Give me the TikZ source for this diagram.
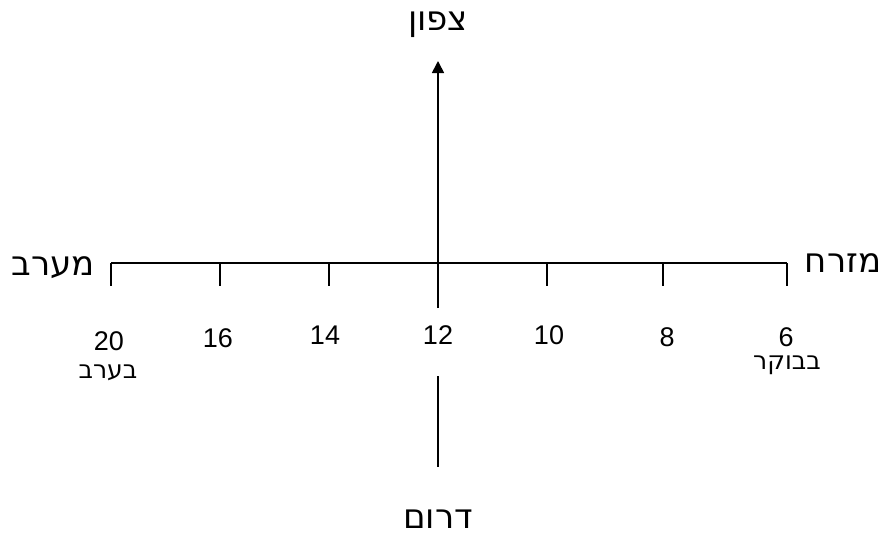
\documentclass[tikz,border=0pt]{standalone}
\usepackage{fontspec}
\setmainfont{Liberation Sans}
\newfontfamily\hebfont[Script=Hebrew]{DejaVu Sans}
\TeXXeTstate=1
\usetikzlibrary{arrows.meta}

\tikzset{
  axisline/.style={line width=1.1pt},
  mainline/.style={line width=1.7pt},
  bigheb/.style={inner sep=0pt, anchor=base, font=\hebfont\fontsize{34}{38}\selectfont},
  smallheb/.style={inner sep=0pt, anchor=base, text height=16pt, font=\hebfont\fontsize{25}{28}\selectfont},
  hour/.style={inner sep=0pt, anchor=base, text depth=0pt, font=\fontsize{27}{30}\selectfont},
}

\begin{document}
\begin{tikzpicture}[x=1pt, y=-1pt, >={Triangle[length=12pt,width=12pt]}]
  \useasboundingbox (0,0) rectangle (886,538);

  % east-west line with the hour ticks
  \coordinate (W) at (111,263);
  \coordinate (E) at (787,263);
  \coordinate (O) at (438,263);
  \draw[axisline] (W) -- (E);
  \foreach \x in {111,220,329,547,663,787}
    \draw[axisline] (\x,263) -- (\x,286);

  % noon: long tick turning into the north arrow
  \coordinate (noon) at (438,308);
  \coordinate (N) at (438,61);
  \draw[mainline,->] (noon) -- (N);

  % south stroke
  \coordinate (S1) at (438,376);
  \coordinate (S2) at (438,467);
  \draw[mainline] (S1) -- (S2);

  % hours (placed on their baselines)
  \node[hour] (h20) at (109,350) {20};
  \node[hour] (h16) at (218,347) {16};
  \node[hour] (h14) at (325,344) {14};
  \node[hour] (h12) at (438,344) {12};
  \node[hour] (h10) at (549,344) {10};
  \node[hour] (h8)  at (667,346) {8};
  \node[hour] (h6)  at (786,346) {6};
  \node[smallheb] (evening) at (108,378) {\beginR בערב\endR};
  \node[smallheb] (morning) at (787,369) {\beginR בבוקר\endR};

  % compass points
  \node[bigheb] (north) at (438,30)  {\beginR צפון\endR};
  \node[bigheb] (south) at (438,528) {\beginR דרום\endR};
  \node[bigheb] (west)  at (53,275)  {\beginR מערב\endR};
  \node[bigheb] (east)  at (843,272) {\beginR מזרח\endR};
\end{tikzpicture}
\end{document}
